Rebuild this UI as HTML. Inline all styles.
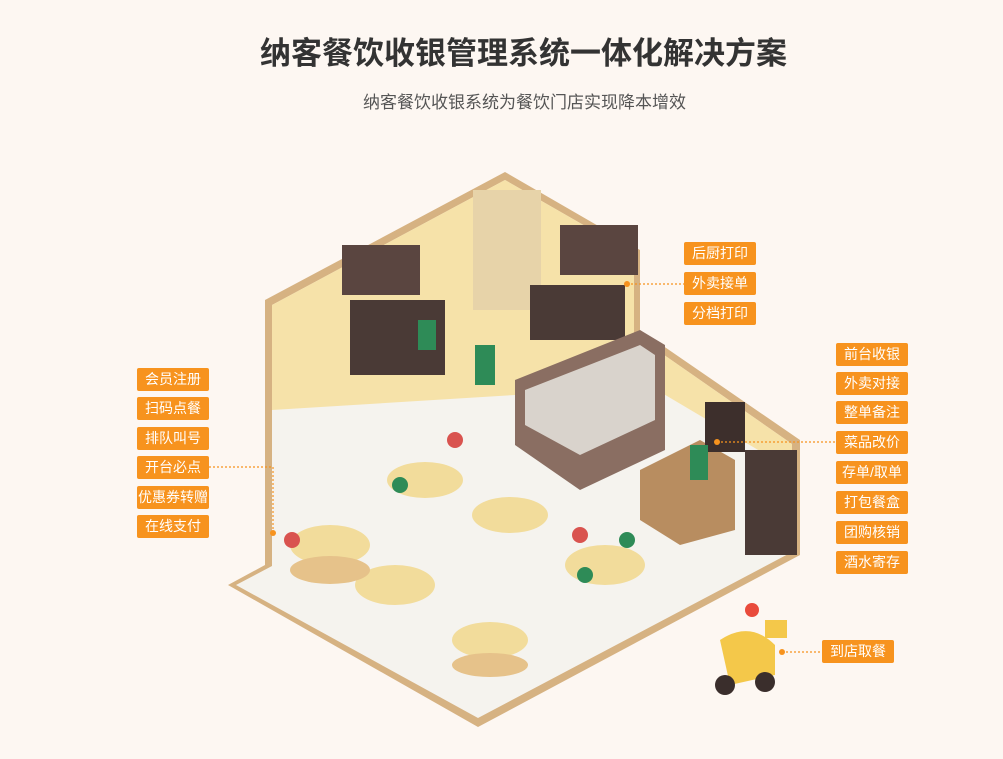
<!DOCTYPE html>
<html><head><meta charset="utf-8"><style>
body{margin:0;width:1003px;height:759px;background:#fdf7f2;font-family:"Liberation Sans","Noto Sans CJK SC",sans-serif;position:relative;overflow:hidden}
h1{position:absolute;top:28px;left:22px;width:1003px;text-align:center;margin:0;font-size:31px;font-weight:bold;color:#333}
.sub{position:absolute;top:88px;left:23px;width:1003px;text-align:center;font-size:17px;color:#555}
.l{position:absolute;width:72px;height:23px;background:#f7931e;color:#fff;font-size:14px;line-height:23px;text-align:center;border-radius:2px}
svg{position:absolute;left:0;top:0}
</style></head><body>
<h1>纳客餐饮收银管理系统一体化解决方案</h1>
<div class="sub">纳客餐饮收银系统为餐饮门店实现降本增效</div>
<svg width="1003" height="759">
<polygon points="228,585 265,565 265,300 505,172 640,250 640,330 800,440 800,555 478,727" fill="#d6b282"/>
<polygon points="236,585 272,566 272,305 505,180 634,254 634,334 792,444 792,552 478,718" fill="#f5f3ee"/>
<polygon points="272,305 505,180 634,254 634,334 515,395 272,410" fill="#f6e2a9"/>
<polygon points="634,334 792,444 792,470 640,380" fill="#f6e2a9"/>
<rect x="473" y="190" width="68" height="120" fill="#e7d3a9"/>
<rect x="342" y="245" width="78" height="50" fill="#5a4540"/>
<rect x="350" y="300" width="95" height="75" fill="#4a3a36"/>
<rect x="560" y="225" width="78" height="50" fill="#5a4540"/>
<rect x="530" y="285" width="95" height="55" fill="#4a3a36"/>
<polygon points="515,380 640,330 665,345 665,450 580,490 515,445" fill="#8a6e62"/>
<polygon points="525,390 640,345 655,355 655,420 580,455 525,425" fill="#d9d3cc"/>
<polygon points="640,470 700,440 735,460 735,530 680,545 640,520" fill="#b88d60"/>
<rect x="745" y="450" width="52" height="105" fill="#4a3a36"/>
<rect x="705" y="402" width="40" height="50" fill="#3d2f2c"/>
<g fill="#f2dc9b">
<ellipse cx="330" cy="545" rx="40" ry="20"/><ellipse cx="425" cy="480" rx="38" ry="18"/>
<ellipse cx="510" cy="515" rx="38" ry="18"/><ellipse cx="395" cy="585" rx="40" ry="20"/>
<ellipse cx="605" cy="565" rx="40" ry="20"/><ellipse cx="490" cy="640" rx="38" ry="18"/>
</g>
<g fill="#e6c28a"><ellipse cx="330" cy="570" rx="40" ry="14"/><ellipse cx="490" cy="665" rx="38" ry="12"/></g>
<g fill="#d9534f"><circle cx="455" cy="440" r="8"/><circle cx="580" cy="535" r="8"/><circle cx="292" cy="540" r="8"/></g>
<g fill="#2e8b57"><circle cx="400" cy="485" r="8"/><circle cx="585" cy="575" r="8"/><circle cx="627" cy="540" r="8"/><rect x="418" y="320" width="18" height="30"/><rect x="475" y="345" width="20" height="40"/><rect x="690" y="445" width="18" height="35"/></g>
<g fill="#f4c84a"><path d="M720,640 q30,-20 55,5 l0,30 l-45,10 z"/><rect x="765" y="620" width="22" height="18"/></g>
<circle cx="725" cy="685" r="10" fill="#3a2e2c"/><circle cx="765" cy="682" r="10" fill="#3a2e2c"/>
<circle cx="752" cy="610" r="7" fill="#e94b3c"/>
<g stroke="#f7931e" stroke-width="1.2" stroke-dasharray="2,2" fill="none">
<polyline points="209,467 273,467 273,533"/>
<line x1="627" y1="284" x2="684" y2="284"/>
<line x1="717" y1="442" x2="836" y2="442"/>
<line x1="782" y1="652" x2="822" y2="652"/>
</g>
<g fill="#f7931e"><circle cx="273" cy="533" r="3"/><circle cx="627" cy="284" r="3"/><circle cx="717" cy="442" r="3"/><circle cx="782" cy="652" r="3"/></g>
</svg>
<div class="l" style="left:137px;top:368px">会员注册</div>
<div class="l" style="left:137px;top:397px">扫码点餐</div>
<div class="l" style="left:137px;top:427px">排队叫号</div>
<div class="l" style="left:137px;top:456px">开台必点</div>
<div class="l" style="left:137px;top:486px">优惠券转赠</div>
<div class="l" style="left:137px;top:515px">在线支付</div>
<div class="l" style="left:684px;top:242px">后厨打印</div>
<div class="l" style="left:684px;top:272px">外卖接单</div>
<div class="l" style="left:684px;top:302px">分档打印</div>
<div class="l" style="left:836px;top:343px">前台收银</div>
<div class="l" style="left:836px;top:372px">外卖对接</div>
<div class="l" style="left:836px;top:401px">整单备注</div>
<div class="l" style="left:836px;top:431px">菜品改价</div>
<div class="l" style="left:836px;top:461px">存单/取单</div>
<div class="l" style="left:836px;top:491px">打包餐盒</div>
<div class="l" style="left:836px;top:521px">团购核销</div>
<div class="l" style="left:836px;top:551px">酒水寄存</div>
<div class="l" style="left:822px;top:640px">到店取餐</div>
</body></html>
